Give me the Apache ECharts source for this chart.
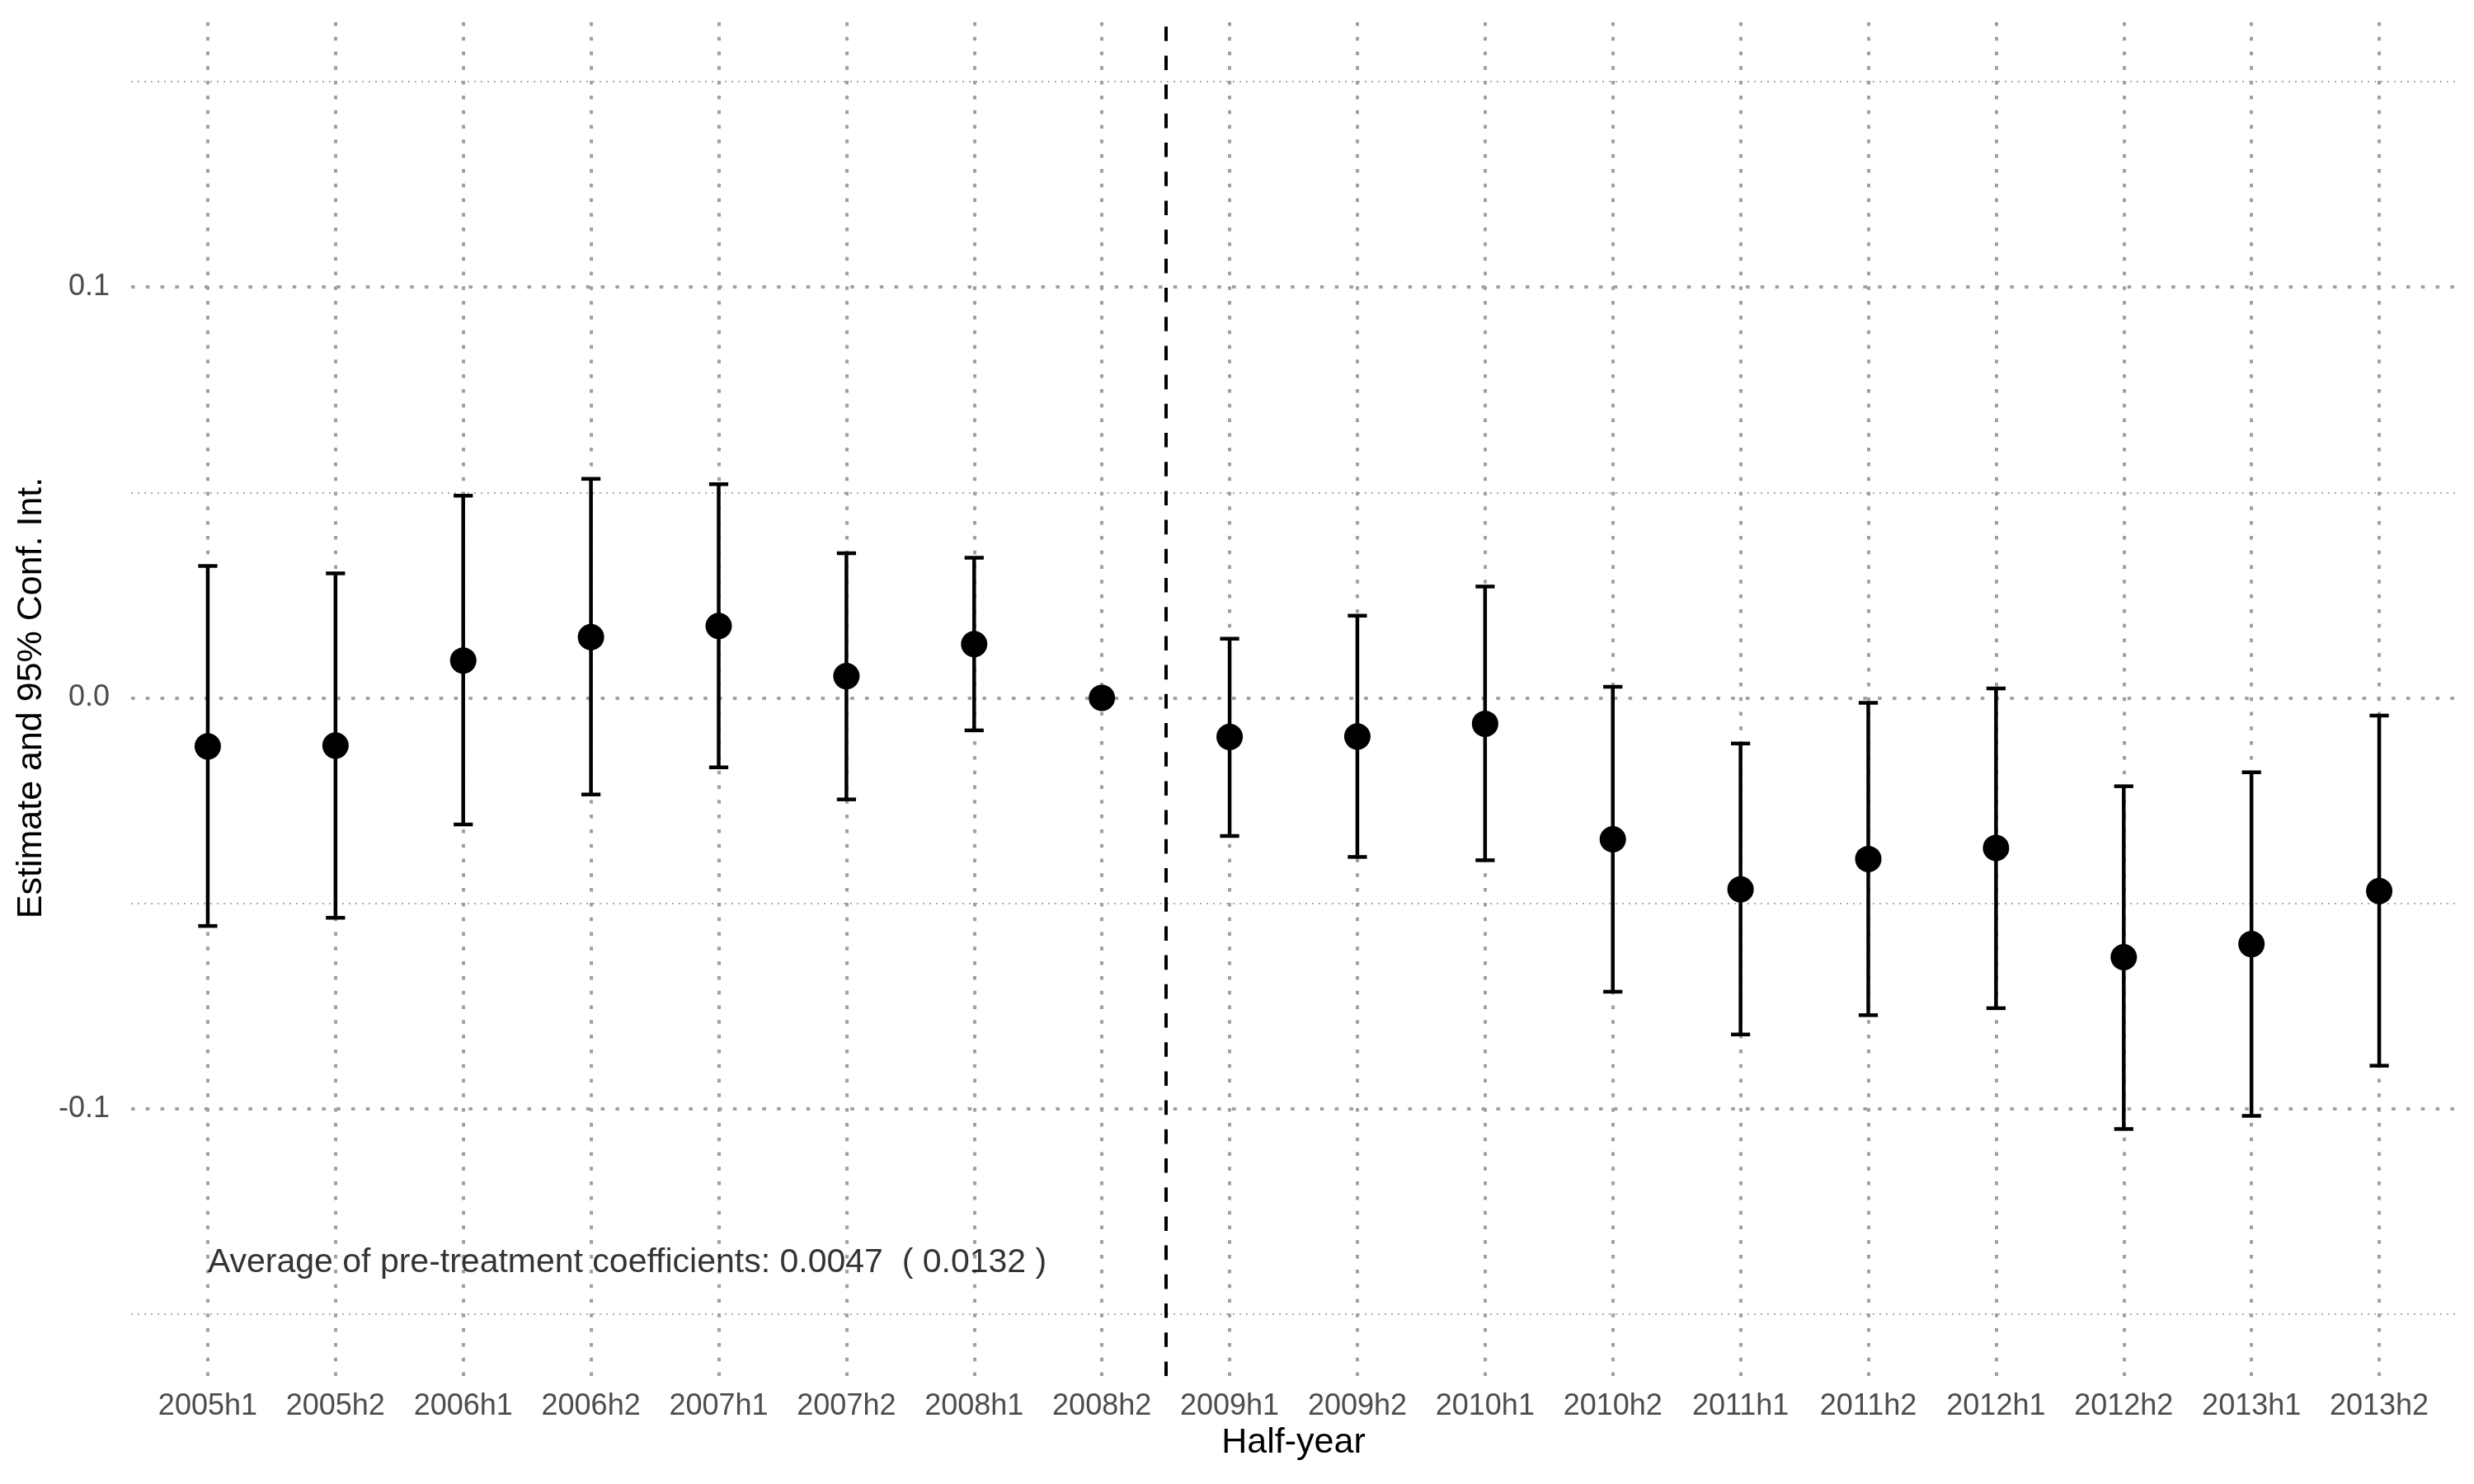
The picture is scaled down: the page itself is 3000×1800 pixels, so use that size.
<!DOCTYPE html>
<html>
<head>
<meta charset="utf-8">
<title>Event study</title>
<script src="https://cdn.jsdelivr.net/npm/echarts@6/dist/echarts.min.js"></script>
<style>
  html, body { margin: 0; padding: 0; background: #fff; }
  #chart { width: 3000px; height: 1800px; }
</style>
</head>
<body>
<div id="chart"></div>
<script>
// half-year periods
const categories = ['2005h1', '2005h2', '2006h1', '2006h2', '2007h1', '2007h2', '2008h1', '2008h2',
  '2009h1', '2009h2', '2010h1', '2010h2', '2011h1', '2011h2', '2012h1', '2012h2', '2013h1', '2013h2'];

// point estimates and 95% CI bounds (2008h2 is the reference period)
const estimates = [-0.0118, -0.0116, 0.0091, 0.0148, 0.0175, 0.0053, 0.0131, 0,
  -0.0095, -0.0094, -0.0063, -0.0344, -0.0466, -0.0392, -0.0365, -0.0631, -0.0599, -0.0470];
const lower = [-0.0555, -0.0535, -0.0308, -0.0235, -0.0169, -0.0247, -0.0079, 0,
  -0.0336, -0.0387, -0.0395, -0.0715, -0.0819, -0.0772, -0.0755, -0.1049, -0.1017, -0.0895];
const upper = [0.0321, 0.0303, 0.0492, 0.0533, 0.0520, 0.0352, 0.0341, 0,
  0.0144, 0.0200, 0.0271, 0.0027, -0.0111, -0.0012, 0.0023, -0.0215, -0.0181, -0.0043];

// axis ticks
const yTicks = [-0.1, 0, 0.1];
const yMinorTicks = [-0.15, -0.05, 0.05, 0.15];

// treatment starts between 2008h2 and 2009h1
const treatmentBreak = 7.5;

const noteText = 'Average of pre-treatment coefficients: 0.0047  ( 0.0132 )';
const notePos = [0, -0.1375];

const FONT = '"Liberation Sans", Arial, Helvetica, sans-serif';

const chart = echarts.init(document.getElementById('chart'));

const errData = categories.map((c, i) => [i, lower[i], upper[i]]);
const pointData = categories.map((c, i) => [i, estimates[i]]);

function lineMarks(list, style, z) {
  return {
    z: z,
    silent: true,
    symbol: ['none', 'none'],
    label: { show: false },
    emphasis: { disabled: true },
    animation: false,
    lineStyle: style,
    data: list
  };
}

chart.setOption({
  animation: false,
  backgroundColor: '#ffffff',
  grid: { left: 159, right: 22, top: 24, bottom: 131 },
  xAxis: {
    type: 'value',
    min: -0.6,
    max: categories.length - 1 + 0.6,
    name: 'Half-year',
    nameLocation: 'middle',
    nameGap: 60,
    nameTextStyle: { fontFamily: FONT, fontSize: 43, color: '#000' },
    axisLine: { show: false },
    axisTick: { show: false },
    splitLine: { show: false },
    axisLabel: {
      customValues: categories.map((c, i) => i),
      formatter: v => categories[Math.round(v)],
      fontFamily: FONT,
      fontSize: 36,
      color: '#4d4d4d',
      margin: 19
    }
  },
  yAxis: {
    type: 'value',
    min: -0.165,
    max: 0.165,
    name: 'Estimate and 95% Conf. Int.',
    nameLocation: 'middle',
    nameGap: 98,
    nameTextStyle: { fontFamily: FONT, fontSize: 43, color: '#000' },
    axisLine: { show: false },
    axisTick: { show: false },
    splitLine: { show: false },
    axisLabel: {
      customValues: yTicks,
      formatter: v => v.toFixed(1),
      fontFamily: FONT,
      fontSize: 36,
      color: '#4d4d4d',
      margin: 26
    }
  },
  series: [
    {
      // minor horizontal grid
      type: 'scatter',
      data: [],
      z: 1,
      markLine: lineMarks(yMinorTicks.map(v => ({ yAxis: v })),
        { color: '#aaaaaa', width: 2, type: [2, 6], cap: 'butt' }, 1)
    },
    {
      // major grid
      type: 'scatter',
      data: [],
      z: 1,
      markLine: lineMarks(
        yTicks.map(v => ({ yAxis: v })).concat(categories.map((c, i) => ({ xAxis: i }))),
        { color: '#a0a0a0', width: 4, type: [4.5, 13.3], cap: 'butt' }, 1)
    },
    {
      type: 'scatter',
      data: [],
      z: 2,
      markLine: lineMarks([{ xAxis: treatmentBreak }],
        { color: '#000', width: 4, type: [17.6, 17.6], cap: 'butt' }, 2)
    },
    {
      name: 'CI',
      type: 'custom',
      z: 3,
      data: errData,
      renderItem: function (params, api) {
        const x = api.value(0);
        const top = api.coord([x, api.value(2)]);
        const bot = api.coord([x, api.value(1)]);
        const hw = api.size([0.15, 0])[0] / 2;
        const st = { stroke: '#000', lineWidth: 4.5, opacity: 1 };
        return {
          type: 'group',
          children: [
            { type: 'line', shape: { x1: top[0], y1: top[1], x2: bot[0], y2: bot[1] }, style: st },
            { type: 'line', shape: { x1: top[0] - hw, y1: top[1], x2: top[0] + hw, y2: top[1] }, style: st },
            { type: 'line', shape: { x1: bot[0] - hw, y1: bot[1], x2: bot[0] + hw, y2: bot[1] }, style: st }
          ]
        };
      }
    },
    {
      name: 'Estimate',
      type: 'scatter',
      z: 4,
      symbol: 'circle',
      symbolSize: 32,
      itemStyle: { color: '#000', opacity: 1 },
      data: pointData
    },
    {
      // annotation
      type: 'scatter',
      z: 5,
      symbolSize: 0,
      silent: true,
      data: [notePos],
      label: {
        show: true,
        position: 'right',
        distance: 0,
        formatter: noteText,
        fontFamily: FONT,
        fontSize: 41,
        color: '#000'
      }
    }
  ]
});
</script>
</body>
</html>
